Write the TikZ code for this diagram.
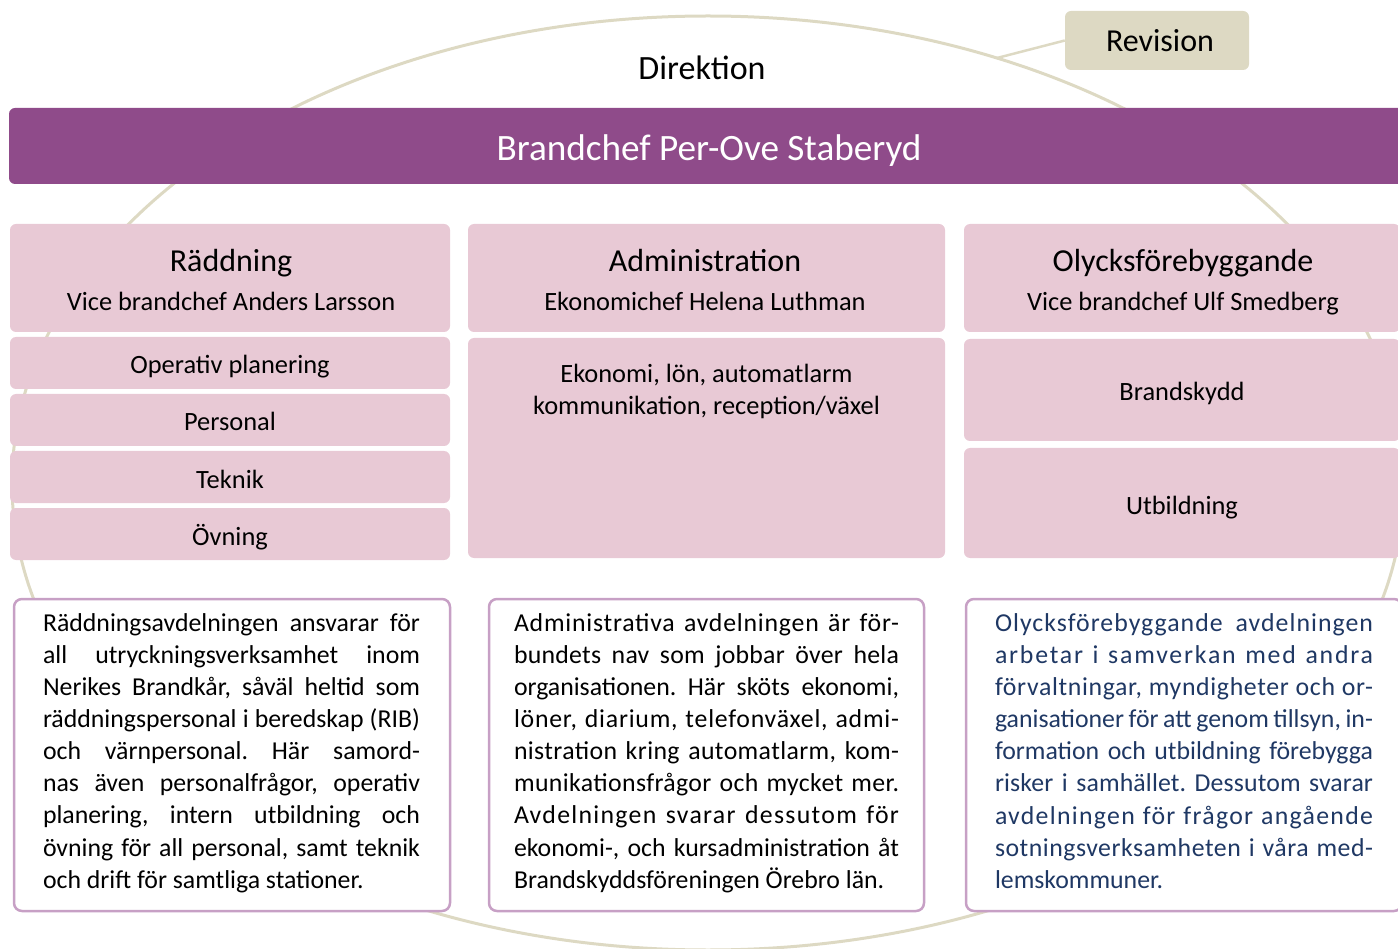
\documentclass[tikz,border=0pt]{standalone}
\usepackage{fontspec}
\setmainfont{Carlito}
\frenchspacing
\usetikzlibrary{positioning}

\definecolor{barpurple}{RGB}{143,75,138}
\definecolor{boxpink}{RGB}{232,201,213}
\definecolor{framelilac}{RGB}{199,160,197}
\definecolor{ringbeige}{RGB}{221,217,195}
\definecolor{textnavy}{RGB}{31,56,100}

\newcommand{\titlesize}{\fontsize{32}{38}\selectfont}
\newcommand{\subsize}{\fontsize{26.4}{31.5}\selectfont}
\newcommand{\bodysize}{\fontsize{25.8}{32.1}\selectfont}
\newcommand{\jl}[2][377pt]{\makebox[#1][s]{#2}}
\newcommand{\jls}[3][378pt]{\makebox[#1][s]{\addfontfeature{LetterSpace=#2}#3}}

\tikzset{
  pinkbox/.style={fill=boxpink, rounded corners=6pt, inner sep=0pt, font=\subsize, align=center},
  itembox/.style={pinkbox, text height=22pt, text depth=0pt},
  titletxt/.style={inner sep=0pt, font=\titlesize, text height=22pt, text depth=0pt},
  subtxt/.style={inner sep=0pt, font=\subsize, text height=18pt, text depth=0pt},
  infobox/.style={draw=framelilac, line width=2.5pt, fill=white, rounded corners=8pt,
    minimum width=436pt, minimum height=312pt},
  infotxt/.style={inner sep=0pt, font=\bodysize, align=left},
}

\begin{document}
\begin{tikzpicture}[x=1pt,y=-1pt]
\useasboundingbox (0,0) rectangle (1398,949);

% ring behind the chart
\draw[ringbeige, line width=3pt] (708,483) ellipse [x radius=696, y radius=467];
\coordinate (rev-hook) at (997,58);

\node[fill=ringbeige, rounded corners=6pt, minimum width=184pt, minimum height=59pt,
  font=\fontsize{32}{36}\selectfont] (revision) at (1157,40.5) {\hspace{6pt}Revision};
\draw[ringbeige, line width=2.5pt] (revision.west) -- (rev-hook);

\node[font=\fontsize{34}{38}\selectfont] (direktion) at (702,68) {Direktion};

\node[fill=barpurple, rounded corners=6pt, minimum width=1400pt, minimum height=76pt,
  text=white, font=\fontsize{37.2}{40}\selectfont, text height=29pt, text depth=0pt]
  (chef) at (709,146) {Brandchef Per-Ove Staberyd};

% avdelningar
\node[pinkbox, minimum width=440pt, minimum height=108pt] (raedd) at (230,278) {};
\node[pinkbox, minimum width=477pt, minimum height=108pt] (admin) at (706.5,278) {};
\node[pinkbox, minimum width=436pt, minimum height=108pt] (olyck) at (1182,278) {};
\node[titletxt] (raedd-title) at (231,261) {Räddning};
\node[subtxt] (raedd-sub) at (231,302) {Vice brandchef Anders Larsson};
\node[titletxt] (admin-title) at (705,261) {Administration};
\node[subtxt] (admin-sub) at (705,302) {Ekonomichef Helena Luthman};
\node[titletxt] (olyck-title) at (1183,261) {Olycksförebyggande};
\node[subtxt] (olyck-sub) at (1183,302) {Vice brandchef Ulf Smedberg};

% Räddning
\foreach \txt [count=\i] in {Operativ planering, Personal, Teknik, Övning}
  \node[itembox, minimum width=440pt, minimum height=52pt] (raedd-\i) at (230,306+57*\i) {\txt};

% Administration
\node[pinkbox, minimum width=477pt, minimum height=220pt] (admin-1) at (706.5,448) {};
\node[pinkbox, fill=none, below=26.5pt of admin-1.north] (admin-1-txt)
  {Ekonomi, lön, automatlarm\\kommunikation, reception/växel};

% Olycksförebyggande
\node[itembox, minimum width=436pt, minimum height=102pt] (olyck-1) at (1182,390) {Brandskydd};
\node[itembox, minimum width=436pt, minimum height=110pt] (olyck-2) at (1182,503) {Utbildning};

% beskrivningar
\node[infobox] (raedd-info) at (232,755) {};
\node[infobox, minimum width=435pt] (admin-info) at (706.5,755) {};
\node[infobox] (olyck-info) at (1184,755) {};

\node[infotxt] (raedd-info-txt) at (231.5,753) {%
\jl{Räddningsavdelningen ansvarar för}\\
\jl{all utryckningsverksamhet inom}\\
\jl{Nerikes Brandkår, såväl heltid som}\\
\jl{räddningspersonal i beredskap (RIB)}\\
\jl{och värnpersonal. Här samord-}\\
\jl{nas även personalfrågor, operativ}\\
\jl{planering, intern utbildning och}\\
\jl{övning för all personal, samt teknik}\\
och drift för samtliga stationer.};

\node[infotxt] (admin-info-txt) at (706.5,753) {%
\jls[385pt]{3}{Administrativa avdelningen är för-}\\
\jls[385pt]{1}{bundets nav som jobbar över hela}\\
\jl[385pt]{organisationen. Här sköts ekonomi,}\\
\jls[385pt]{3}{löner, diarium, telefonväxel, admi-}\\
\jls[385pt]{1.5}{nistration kring automatlarm, kom-}\\
\jls[385pt]{1.5}{munikationsfrågor och mycket mer.}\\
\jls[385pt]{5}{Avdelningen svarar dessutom för}\\
\jl[385pt]{ekonomi-, och kursadministration åt}\\
Brandskyddsföreningen Örebro län.};

\node[infotxt, text=textnavy] (olyck-info-txt) at (1184,751) {%
\jls{4}{Olycksförebyggande avdelningen}\\
\jls{7}{arbetar i samverkan med andra}\\
\jls{2.5}{förvaltningar, myndigheter och or-}\\
\jl[378pt]{ganisationer för att genom tillsyn, in-}\\
\jl[378pt]{formation och utbildning förebygga}\\
\jls{0.5}{risker i samhället. Dessutom svarar}\\
\jls{5}{avdelningen för frågor angående}\\
\jls{2}{sotningsverksamheten i våra med-}\\
lemskommuner.};

\end{tikzpicture}
\end{document}
